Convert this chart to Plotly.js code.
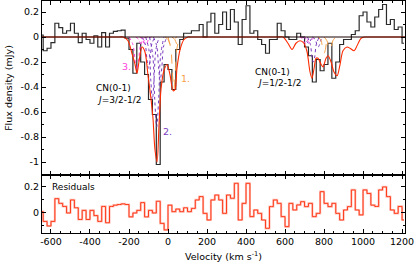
<!DOCTYPE html>
<html><head><meta charset="utf-8">
<script src="https://cdn.plot.ly/plotly-3.0.1.min.js"></script>
<style>html,body{margin:0;padding:0;background:#fff}#plot{width:415px;height:266px}</style>
</head><body><div id="plot"></div>
<script>
// channel centres (km/s)
const vel = [-650,-630,-610,-590,-570,-550,-530,-510,-490,-470,-450,-430,-410,-390,-370,-350,-330,-310,-290,-270,-250,-230,-210,-190,-170,-150,-130,-110,-90,-70,-50,-30,-10,10,30,50,70,90,110,130,150,170,190,210,230,250,270,290,310,330,350,370,390,410,430,450,470,490,510,530,550,570,590,610,630,650,670,690,710,730,750,770,790,810,830,850,870,890,910,930,950,970,990,1010,1030,1050,1070,1090,1110,1130,1150,1170,1190,1210];
// observed flux density (mJy)
const flux = [0.016,-0.11,-0.09,-0.045,0.11,0.075,0.03,0.05,0.11,0.03,-0.045,0.03,-0.02,-0.05,0.01,-0.08,0.035,-0.08,0.03,0.045,0.05,0.055,-0.01,-0.1,-0.29,-0.05,-0.2,-0.3,-0.5,-0.62,-1.02,-0.36,-0.22,-0.26,-0.42,-0.1,-0.02,0.03,0.03,0.05,0.05,0.1,0.0,0.12,0.19,0.03,0.1,0.2,0.06,0.22,0.12,-0.06,0.14,0.25,0.03,0.05,-0.02,-0.06,-0.13,-0.02,-0.02,0.11,0.05,0.0,-0.02,-0.02,0.03,0.0,-0.08,-0.15,-0.36,-0.18,-0.27,-0.22,-0.05,-0.33,-0.2,-0.06,-0.02,-0.02,0.02,0.05,0.17,0.2,0.12,0.08,0.16,0.22,0.26,0.1,0.14,0.06,0.08,-0.05];
// residuals (mJy)
const resid = [0.01,-0.065,-0.1,-0.065,0.11,0.074,0.05,0.0,0.1,0.04,-0.05,0.02,-0.05,0.02,-0.02,-0.065,0.05,-0.075,0.05,0.06,0.065,0.07,0.065,-0.03,0.0,0.02,0.08,-0.03,0.02,0.0,0.09,-0.08,-0.13,0.06,0.01,0.03,0.01,0.04,0.01,0.035,0.1,0.126,-0.003,-0.054,0.1,0.138,0.1,-0.003,0.138,0.113,0.228,-0.054,0.074,0.228,-0.028,0.023,-0.003,-0.054,-0.118,0.049,0.1,0.074,-0.028,-0.105,0.074,0.023,0.062,0.087,0.049,0.074,-0.028,-0.003,0.164,0.074,0.049,0.074,-0.003,-0.054,0.023,0.049,0.177,0.023,-0.015,0.177,0.15,0.06,0.05,0.177,0.2,0.126,0.023,-0.003,0.05,-0.054];
// total model
const modelV = [-660,-250,-230,-205,-185,-169,-159,-149,-133,-118,-103,-87,-77,-67,-56,-46,-36,-21,-5,10,26,36,46,62,82,103,120,560,590,615,636,656,677,697,713,728,738,749,759,769,785,795,810,821,836,851,867,882,897,918,933,954,969,990,1010,1030,1240];
const modelF = [0,0,0,-0.03,-0.13,-0.22,-0.29,-0.2,-0.08,-0.12,-0.3,-0.5,-0.65,-0.9,-1.0,-0.7,-0.42,-0.27,-0.22,-0.3,-0.43,-0.42,-0.25,-0.1,-0.02,0,0,0,0,-0.05,-0.1,-0.05,-0.03,-0.05,-0.12,-0.28,-0.33,-0.25,-0.17,-0.17,-0.22,-0.24,-0.17,-0.15,-0.2,-0.28,-0.31,-0.22,-0.11,-0.08,-0.09,-0.11,-0.07,-0.01,0,0,0];
// component 1 (orange)
const comp1 = [
  {v:[-15,0,8,15,22,30,45], f:[0,-0.02,-0.05,-0.06,-0.05,-0.02,0]},
  {v:[0,15,23,30,37,45,60], f:[0,-0.1,-0.3,-0.42,-0.3,-0.1,0]},
  {v:[20,35,43,50,57,65,80], f:[0,-0.02,-0.05,-0.06,-0.05,-0.02,0]},
  {v:[770,785,793,800,807,815,830], f:[0,-0.03,-0.1,-0.13,-0.1,-0.03,0]},
  {v:[800,815,823,830,837,845,860], f:[0,-0.03,-0.08,-0.1,-0.08,-0.03,0]}
];
// component 2 (purple)
const comp2 = [
  {v:[-135,-118,-108,-100,-92,-82,-65], f:[0,-0.05,-0.18,-0.25,-0.18,-0.05,0]},
  {v:[-115,-98,-88,-80,-72,-62,-45], f:[0,-0.1,-0.35,-0.5,-0.35,-0.1,0]},
  {v:[-95,-78,-68,-58,-48,-38,-21], f:[0,-0.15,-0.5,-0.72,-0.5,-0.15,0]},
  {v:[-75,-58,-48,-40,-32,-22,-5], f:[0,-0.07,-0.25,-0.35,-0.25,-0.07,0]},
  {v:[690,705,713,720,727,735,750], f:[0,-0.015,-0.04,-0.05,-0.04,-0.015,0]},
  {v:[715,730,738,745,752,760,775], f:[0,-0.06,-0.16,-0.2,-0.16,-0.06,0]},
  {v:[740,755,763,770,777,785,800], f:[0,-0.02,-0.06,-0.08,-0.06,-0.02,0]}
];
// component 3 (magenta)
const comp3 = [
  {v:[-200,-180,-168,-160,-152,-140,-120], f:[0,-0.06,-0.2,-0.26,-0.2,-0.06,0]},
  {v:[-165,-150,-142,-135,-128,-120,-105], f:[0,-0.02,-0.05,-0.06,-0.05,-0.02,0]},
  {v:[-145,-130,-122,-115,-108,-100,-85], f:[0,-0.02,-0.05,-0.06,-0.05,-0.02,0]},
  {v:[675,690,698,705,712,720,735], f:[0,-0.015,-0.04,-0.05,-0.04,-0.015,0]},
  {v:[695,710,718,725,732,740,755], f:[0,-0.015,-0.035,-0.045,-0.035,-0.015,0]}
];
const xTicks = [-600,-400,-200,0,200,400,600,800,1000,1200];
const xTickText = ['-600','-400','-200','0','200','400','600','800','1000','1200'];
const yTicks = [0.2,0,-0.2,-0.4,-0.6,-0.8,-1];
const yTickText = ['0.2','0','-0.2','-0.4','-0.6','-0.8','-1'];
const y2Ticks = [0.2,0];
const y2TickText = ['0.2','0'];

const traces = [];
traces.push({x:vel, y:flux, mode:'lines', line:{shape:'hvh', color:'#2a2a2a', width:1.2}, xaxis:'x', yaxis:'y'});
function addComps(list, color, dash){
  list.forEach(c => traces.push({x:c.v, y:c.f, mode:'lines', line:{shape:'spline', color:color, width:1, dash:dash}, xaxis:'x', yaxis:'y'}));
}
addComps(comp3, '#ff44dd', 'dot');
addComps(comp2, '#7a3cc0', 'dot');
addComps(comp1, '#f7a048', 'dash');
traces.push({x:modelV, y:modelF, mode:'lines', line:{shape:'spline', smoothing:0.8, color:'#ff2a00', width:1.1}, xaxis:'x', yaxis:'y'});
traces.push({x:[-700,1300], y:[0,0], mode:'lines', line:{color:'#1a0000', width:1}, xaxis:'x', yaxis:'y', hoverinfo:'skip'});
traces.push({x:vel, y:resid, mode:'lines', line:{shape:'hvh', color:'#ffc2b8', width:2.2}, xaxis:'x2', yaxis:'y2'});
traces.push({x:vel, y:resid, mode:'lines', line:{shape:'hvh', color:'#ff3a1a', width:1}, xaxis:'x2', yaxis:'y2'});

const tf = {family:'DejaVu Sans', size:9.5, color:'#000'};
const minorX = {tick0:0, dtick:50, ticks:'inside', ticklen:2, tickcolor:'#000'};
const axBase = {showgrid:false, zeroline:false, showline:true, linecolor:'#000', linewidth:1, mirror:'allticks', ticks:'inside', ticklen:4, tickcolor:'#000', tickfont:tf};
const layout = {
  width:415, height:266, margin:{l:42, r:10, t:1, b:33},
  paper_bgcolor:'#fff', plot_bgcolor:'#fff', showlegend:false,
  font:{family:'DejaVu Sans', size:9.5, color:'#000'},
  xaxis: Object.assign({}, axBase, {domain:[0,1], anchor:'y', range:[-646,1215], tickmode:'array', tickvals:xTicks, ticktext:xTickText, showticklabels:false, minor:minorX}),
  yaxis: Object.assign({}, axBase, {domain:[0.25,1], anchor:'x', range:[-1.104,0.288], tickmode:'array', tickvals:yTicks, ticktext:yTickText, minor:{tick0:0, dtick:0.1, ticks:'inside', ticklen:2, tickcolor:'#000'},
    title:{text:'Flux density (mJy)', font:{family:'DejaVu Sans', size:9.5}, standoff:6}}),
  xaxis2: Object.assign({}, axBase, {domain:[0,1], anchor:'y2', matches:'x', range:[-646,1215], tickmode:'array', tickvals:xTicks, ticktext:xTickText, minor:minorX,
    title:{text:'Velocity (km s<sup>-1</sup>)', font:{family:'DejaVu Sans', size:9.5}, standoff:6}}),
  yaxis2: Object.assign({}, axBase, {domain:[0,0.25], anchor:'x2', range:[-0.154,0.292], tickmode:'array', tickvals:y2Ticks, ticktext:y2TickText, minor:{tick0:0, dtick:0.1, ticks:'inside', ticklen:2, tickcolor:'#000'}}),
  annotations:[
    {x:-379, y:-0.408, xref:'x', yref:'y', text:'CN(0-1)', showarrow:false, xanchor:'left', yanchor:'middle', font:{size:9, family:'DejaVu Sans'}},
    {x:-374, y:-0.504, xref:'x', yref:'y', text:'<i>J</i>=3/2-1/2', showarrow:false, xanchor:'left', yanchor:'middle', font:{size:9, family:'DejaVu Sans'}},
    {x:436, y:-0.28, xref:'x', yref:'y', text:'CN(0-1)', showarrow:false, xanchor:'left', yanchor:'middle', font:{size:9, family:'DejaVu Sans'}},
    {x:446, y:-0.368, xref:'x', yref:'y', text:'<i>J</i>=1/2-1/2', showarrow:false, xanchor:'left', yanchor:'middle', font:{size:9, family:'DejaVu Sans'}},
    {x:-215, y:-0.232, xref:'x', yref:'y', text:'3.', showarrow:false, font:{size:9.5, family:'DejaVu Sans', color:'#ff44dd'}},
    {x:-5, y:-0.752, xref:'x', yref:'y', text:'2.', showarrow:false, font:{size:9.5, family:'DejaVu Sans', color:'#7a3cc0'}},
    {x:92, y:-0.328, xref:'x', yref:'y', text:'1.', showarrow:false, font:{size:9.5, family:'DejaVu Sans', color:'#f7a048'}},
    {x:-605, y:0.2, xref:'x2', yref:'y2', text:'Residuals', showarrow:false, xanchor:'left', yanchor:'middle', font:{size:9, family:'DejaVu Sans'}}
  ]
};
Plotly.newPlot('plot', traces, layout, {staticPlot:true, displayModeBar:false});
</script></body></html>
